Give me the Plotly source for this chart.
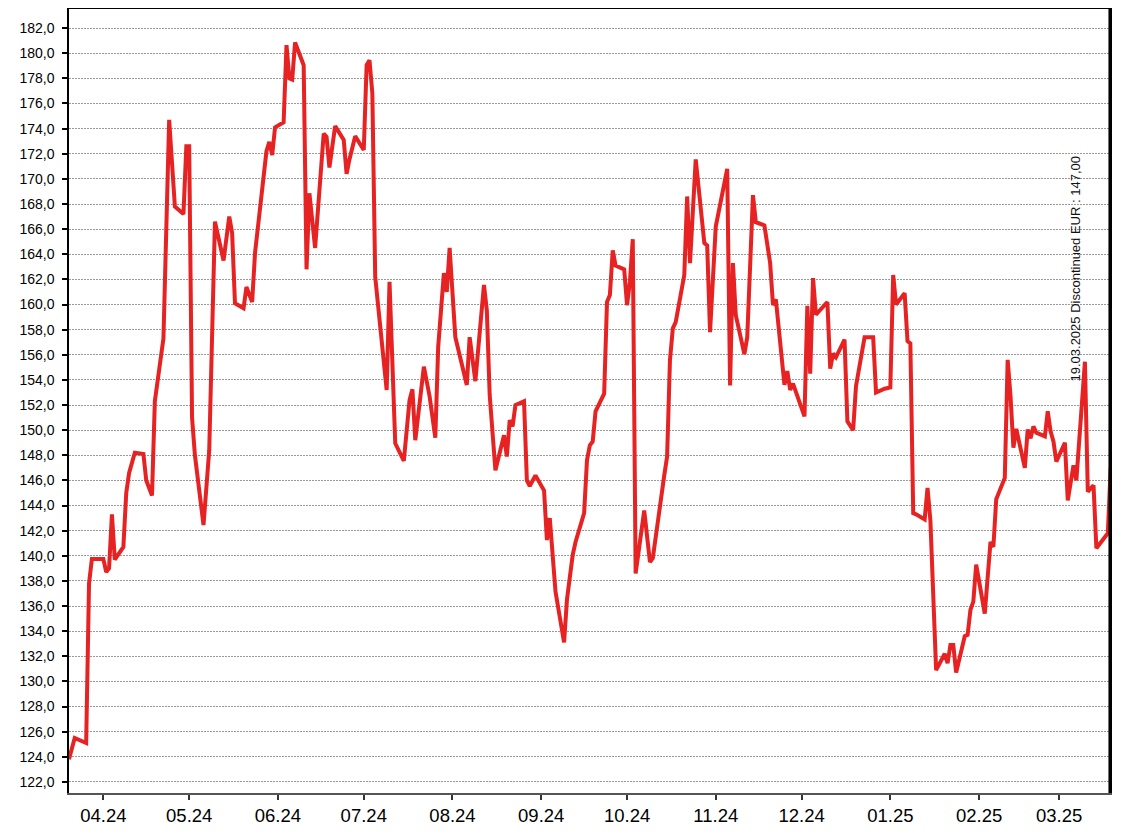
import plotly.graph_objects as go

dates = [
    "2024-03-20", "2024-03-22", "2024-03-26", "2024-03-27", "2024-03-28",
    "2024-04-01", "2024-04-02", "2024-04-03", "2024-04-04", "2024-04-05",
    "2024-04-08", "2024-04-09", "2024-04-10", "2024-04-12", "2024-04-15",
    "2024-04-16", "2024-04-18", "2024-04-19", "2024-04-22", "2024-04-24",
    "2024-04-26", "2024-04-29", "2024-04-30", "2024-05-01", "2024-05-02",
    "2024-05-03", "2024-05-06", "2024-05-08", "2024-05-10", "2024-05-13",
    "2024-05-15", "2024-05-16", "2024-05-17", "2024-05-20", "2024-05-21",
    "2024-05-23", "2024-05-24", "2024-05-28", "2024-05-29", "2024-05-30",
    "2024-05-31", "2024-06-03", "2024-06-04", "2024-06-05", "2024-06-06",
    "2024-06-07", "2024-06-10", "2024-06-11", "2024-06-12", "2024-06-14",
    "2024-06-17", "2024-06-18", "2024-06-19", "2024-06-21", "2024-06-24",
    "2024-06-25", "2024-06-26", "2024-06-28", "2024-07-01", "2024-07-02",
    "2024-07-03", "2024-07-04", "2024-07-05", "2024-07-08", "2024-07-09",
    "2024-07-10", "2024-07-12", "2024-07-15", "2024-07-17", "2024-07-18",
    "2024-07-19", "2024-07-22", "2024-07-24", "2024-07-26", "2024-07-27",
    "2024-07-29", "2024-07-30", "2024-07-31", "2024-08-01", "2024-08-02",
    "2024-08-06", "2024-08-07", "2024-08-09", "2024-08-12", "2024-08-13",
    "2024-08-14", "2024-08-16", "2024-08-19", "2024-08-20", "2024-08-21",
    "2024-08-22", "2024-08-23", "2024-08-26", "2024-08-27", "2024-08-28",
    "2024-08-30", "2024-09-02", "2024-09-03", "2024-09-04", "2024-09-06",
    "2024-09-09", "2024-09-10", "2024-09-12", "2024-09-13", "2024-09-16",
    "2024-09-17", "2024-09-18", "2024-09-19", "2024-09-20", "2024-09-23",
    "2024-09-24", "2024-09-25", "2024-09-26", "2024-09-27", "2024-09-30",
    "2024-10-01", "2024-10-02", "2024-10-03", "2024-10-04", "2024-10-07",
    "2024-10-09", "2024-10-10", "2024-10-14", "2024-10-15", "2024-10-16",
    "2024-10-17", "2024-10-18", "2024-10-21", "2024-10-22", "2024-10-23",
    "2024-10-25", "2024-10-28", "2024-10-29", "2024-10-30", "2024-11-01",
    "2024-11-05", "2024-11-06", "2024-11-07", "2024-11-08", "2024-11-11",
    "2024-11-12", "2024-11-14", "2024-11-15", "2024-11-18", "2024-11-20",
    "2024-11-21", "2024-11-22", "2024-11-25", "2024-11-26", "2024-11-27",
    "2024-11-28", "2024-12-02", "2024-12-03", "2024-12-04", "2024-12-05",
    "2024-12-06", "2024-12-10", "2024-12-11", "2024-12-12", "2024-12-13",
    "2024-12-16", "2024-12-17", "2024-12-19", "2024-12-20", "2024-12-23",
    "2024-12-26", "2024-12-27", "2024-12-30", "2025-01-01", "2025-01-02",
    "2025-01-03", "2025-01-06", "2025-01-07", "2025-01-08", "2025-01-09",
    "2025-01-10", "2025-01-13", "2025-01-14", "2025-01-15", "2025-01-17",
    "2025-01-20", "2025-01-21", "2025-01-22", "2025-01-23", "2025-01-24",
    "2025-01-27", "2025-01-28", "2025-01-29", "2025-01-30", "2025-01-31",
    "2025-02-03", "2025-02-05", "2025-02-06", "2025-02-07", "2025-02-10",
    "2025-02-11", "2025-02-12", "2025-02-13", "2025-02-14", "2025-02-17",
    "2025-02-18", "2025-02-19", "2025-02-20", "2025-02-21", "2025-02-24",
    "2025-02-25", "2025-02-26", "2025-02-27", "2025-02-28", "2025-03-03",
    "2025-03-04", "2025-03-06", "2025-03-07", "2025-03-10", "2025-03-11",
    "2025-03-13", "2025-03-14", "2025-03-18", "2025-03-19",
]

prices = [
    123.8, 125.5, 125.1, 137.8, 139.75,
    139.75, 138.7, 139.0, 143.3, 139.7,
    140.7, 145.0, 146.6, 148.2, 148.1,
    146.0, 144.8, 152.3, 157.3, 174.7,
    167.8, 167.2, 172.6, 172.6, 151.0,
    148.0, 142.45, 148.4, 166.6, 163.5,
    167.0, 165.7, 160.1, 159.7, 161.4,
    160.2, 164.1, 172.2, 172.95, 171.9,
    174.1, 174.5, 180.65, 178.0, 177.9,
    180.86, 179.05, 162.8, 168.85, 164.5,
    173.6, 173.35, 170.9, 174.2, 173.1,
    170.4, 171.55, 173.4, 172.3, 179.05,
    179.45, 176.8, 162.2, 155.05, 153.2,
    161.8, 148.95, 147.55, 152.4, 153.25,
    149.2, 155.05, 152.7, 149.4, 156.6,
    162.5, 161.0, 164.5, 161.15, 157.4,
    153.6, 157.4, 153.9, 161.55, 159.55,
    152.8, 146.8, 149.6, 147.9, 150.8,
    150.3, 152.0, 152.3, 146.0, 145.55,
    146.4, 145.2, 141.25, 143.0, 137.15,
    133.1, 136.5, 140.05, 141.1, 143.4,
    147.6, 148.8, 149.1, 151.5, 152.9,
    160.2, 160.75, 164.3, 163.1, 162.8,
    159.95, 161.8, 165.2, 138.6, 143.6,
    139.5, 139.8, 146.4, 147.9, 155.6,
    158.1, 158.6, 162.35, 168.6, 163.3,
    171.55, 164.9, 164.7, 157.8, 166.2,
    170.8, 153.55, 163.3, 159.15, 156.05,
    157.4, 168.7, 166.55, 166.3, 163.3,
    159.95, 160.4, 153.6, 154.7, 153.2,
    153.7, 151.1, 159.9, 154.5, 162.1,
    159.2, 160.2, 154.9, 156.1, 155.8,
    157.2, 150.7, 150.0, 153.5, 157.4,
    157.4, 153.0, 153.3, 153.4, 162.35,
    160.0, 160.9, 157.1, 156.9, 143.4,
    143.3, 142.9, 145.4, 142.8, 130.9,
    132.2, 131.45, 132.9, 132.9, 130.7,
    133.6, 133.7, 135.7, 136.35, 139.3,
    135.4, 141.1, 140.7, 144.5, 146.2,
    155.6, 152.7, 148.6, 150.1, 147.0,
    150.05, 149.35, 150.3, 149.8, 149.5,
    151.5, 149.9, 149.1, 147.5, 149.0,
    144.4, 147.2, 146.0, 155.45, 145.1,
    145.6, 140.6, 141.8, 147.0,
]

y_ticks = [122 + 2 * i for i in range(31)]
end_date = "2025-03-19"
end_label = "19.03.2025 Discontinued EUR : 147,00"

FONT = "Liberation Sans, Arial, sans-serif"

fig = go.Figure()
fig.add_trace(go.Scatter(
    x=dates, y=prices, mode="lines",
    line=dict(color="#e62222", width=4),
    hoverinfo="skip", showlegend=False,
))

# discontinuation marker (thick black vertical line)
fig.add_shape(type="line", xref="x", yref="paper", x0=end_date, x1=end_date,
              y0=0, y1=1, line=dict(color="black", width=4.5))
# top border
fig.add_shape(type="line", xref="paper", yref="paper", x0=0, x1=1, y0=1, y1=1,
              line=dict(color="black", width=2))

# plot area: 61..1104 horizontally, 0..785 vertically (page is offset by 8px body margin)
fig.add_annotation(
    text=end_label, xref="paper", yref="paper",
    x=(1075 - 69) / 1043, y=(793 - 268.5) / 785,
    textangle=-90, showarrow=False,
    font=dict(family=FONT, size=13, color="#111"),
    xanchor="center", yanchor="middle",
)

fig.update_layout(
    width=1128, height=836,
    margin=dict(l=61, r=24, t=0, b=51),
    paper_bgcolor="white", plot_bgcolor="white",
    separators=",.",
    font=dict(family=FONT, color="black"),
    showlegend=False,
)

fig.update_xaxes(
    type="date",
    range=["2024-03-20 00:00", "2025-03-19 11:00"],
    tick0="2024-04-01", dtick="M1", tickformat="%m.%y",
    ticks="outside", ticklen=5, tickwidth=1.5, tickcolor="#333",
    tickfont=dict(family=FONT, size=18.5, color="black"),
    showgrid=False, zeroline=False,
    showline=True, linecolor="#555", linewidth=1.5,
)

fig.update_yaxes(
    range=[121.12, 183.6],
    tickvals=y_ticks, tickformat=".1f",
    ticks="outside", ticklen=5, tickwidth=2, tickcolor="black",
    tickfont=dict(family=FONT, size=14, color="black"),
    ticklabelstandoff=5,
    showgrid=True, gridcolor="#9a9a9a", gridwidth=1, griddash="2px,1px",
    zeroline=False,
    showline=True, linecolor="black", linewidth=1.5,
)

fig.write_html("out.html")
